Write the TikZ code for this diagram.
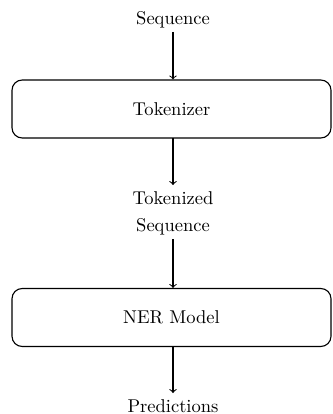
\documentclass[tikz,border=0pt]{standalone}
\begin{document}
\begin{tikzpicture}[x=0.54pt,y=-0.54pt,
  box/.style={draw,line width=0.6pt,rounded corners=5.5pt,minimum width=319*0.54pt,minimum height=58*0.54pt,inner sep=0pt},
  lbl/.style={inner sep=0pt,align=center},
  flow/.style={->,line width=0.55pt}]
\useasboundingbox (0,0) rectangle (332,414);
\node[lbl] (seq) at (173,20) {Sequence};
\node[box] (tok) at (171.5,109) {Tokenizer};
\node[lbl] (tseq) at (173,213) {Tokenized\\[2.5pt]Sequence};
\node[box] (ner) at (171.5,317.5) {NER Model};
\node[lbl] (pred) at (173,406) {Predictions};
\coordinate (a1) at (173,32);
\coordinate (a2) at (173,138);
\coordinate (a3) at (173,239);
\coordinate (a4) at (173,346.5);
\draw[flow] (a1) -- (a1 |- tok.north);
\draw[flow] (a2) -- (173,185);
\draw[flow] (a3) -- (a3 |- ner.north);
\draw[flow] (a4) -- (173,393);
\end{tikzpicture}
\end{document}
